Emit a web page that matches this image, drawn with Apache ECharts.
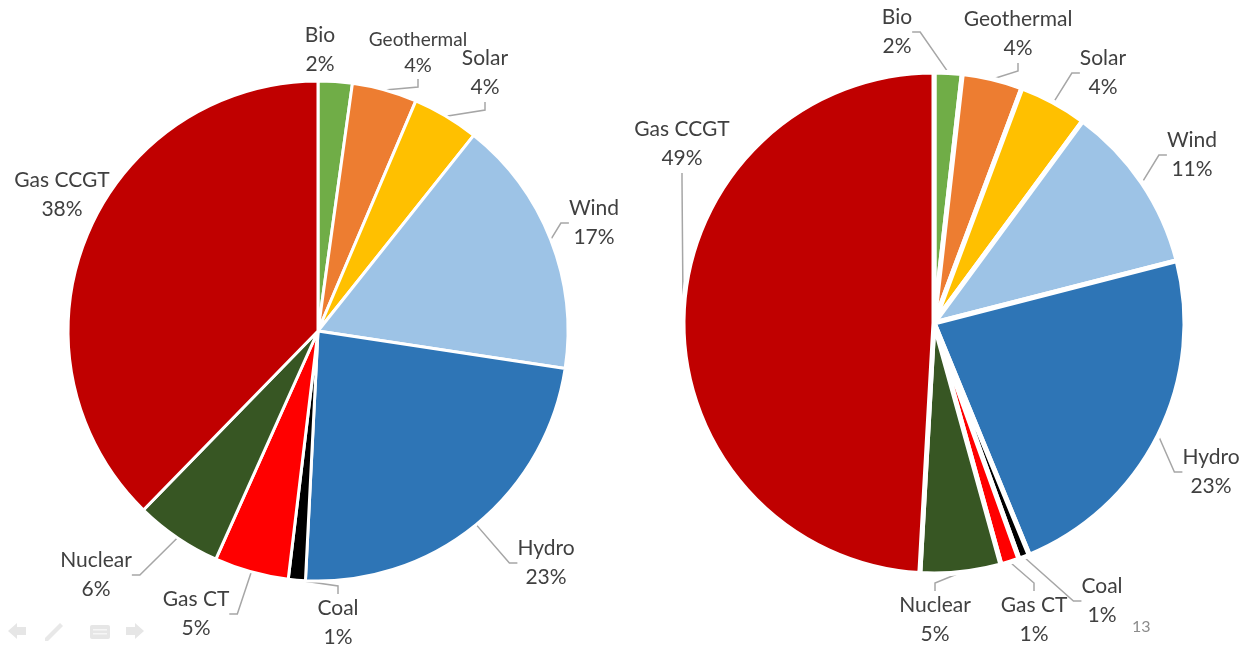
<!DOCTYPE html>
<html>
<head>
<meta charset="utf-8">
<script src="https://cdn.jsdelivr.net/npm/echarts@6/dist/echarts.min.js"></script>
<style>
  html, body { margin: 0; padding: 0; background: #ffffff; }
  #chart { width: 1252px; height: 649px; }
</style>
</head>
<body>
<div id="chart"></div>
<script>
// Generation mix by source, two scenarios (shares in percent)
const sources = ['Bio', 'Geothermal', 'Solar', 'Wind', 'Hydro', 'Coal', 'Gas CT', 'Nuclear', 'Gas CCGT'];
const leftShares  = [2.2, 4.2, 4.3, 16.7, 23.4, 1.1, 4.8, 5.6, 37.7];
const rightShares = [1.8, 3.9, 4.4, 10.9, 22.8, 0.7, 1.2, 5.2, 49.1];
const slideNumber = '13';

const sourceColors = {
  'Bio': '#70AD47', 'Geothermal': '#ED7D31', 'Solar': '#FFC000', 'Wind': '#9DC3E6',
  'Hydro': '#2E75B6', 'Coal': '#000000', 'Gas CT': '#FF0000', 'Nuclear': '#375623',
  'Gas CCGT': '#C00000'
};

// Label block centres (px) for each source, same order as `sources`
const leftLabelAt = [
  [320, 50], [418, 53], [485, 73], [594, 223], [546, 563],
  [338, 623], [196, 614], [96, 575], [62, 195]
];
const rightLabelAt = [
  [897, 32], [1018, 34], [1103, 73], [1192, 155], [1211, 472],
  [1102, 601], [1034, 620], [935, 620], [682, 144]
];

const FONT = 'Lato, "Open Sans", sans-serif';
const TEXT = '#404040';

function pieData(values, smallNames, noLeader) {
  return sources.map((name, i) => {
    const item = {
      name: name,
      value: values[i],
      itemStyle: { color: sourceColors[name] }
    };
    if (smallNames.includes(name)) item.label = { formatter: '{s|{b}}\n{p|{d}%}' };
    if (noLeader.includes(name)) item.labelLine = { show: false };
    return item;
  });
}

function pieSeries(center, radius, values, smallNames, noLeader, gap, labelAt) {
  return {
    type: 'pie',
    center: center,
    radius: radius,
    startAngle: 90,
    clockwise: true,
    animation: false,
    percentPrecision: 0,
    avoidLabelOverlap: false,
    itemStyle: { borderColor: '#ffffff', borderWidth: gap },
    label: {
      show: true,
      position: 'outside',
      formatter: '{b}\n{d}%',
      color: TEXT,
      fontFamily: FONT,
      fontSize: 21,
      lineHeight: 29,
      align: 'center',
      overflow: 'none',
      rich: {
        s: { fontSize: 19, lineHeight: 26, color: TEXT, fontFamily: FONT },
        p: { fontSize: 20, lineHeight: 26, color: TEXT, fontFamily: FONT }
      }
    },
    labelLine: {
      show: true,
      length: 8,
      length2: 8,
      lineStyle: { color: '#a6a6a6', width: 1.5 }
    },
    labelLayout: function (p) {
      const pos = labelAt[p.dataIndex];
      return { x: pos[0], y: pos[1], align: 'center', verticalAlign: 'middle' };
    },
    emphasis: { disabled: true },
    data: pieData(values, smallNames, noLeader)
  };
}

const chart = echarts.init(document.getElementById('chart'), null, { renderer: 'canvas' });
chart.setOption({
  backgroundColor: '#ffffff',
  series: [
    pieSeries([318, 331], 250, leftShares, ['Geothermal'], ['Bio', 'Gas CCGT'], 3, leftLabelAt),
    pieSeries([934, 323], 251, rightShares, [], [], 5, rightLabelAt)
  ],
  graphic: [
    {
      type: 'text',
      left: 1132, top: 619,
      style: { text: slideNumber, fill: '#8c8c8c', font: '16px ' + FONT }
    },
    // slide navigation glyphs, bottom left
    {
      type: 'group', left: 8, top: 623,
      children: [
        { type: 'polygon', shape: { points: [[0, 8], [9, 0], [9, 4], [18, 4], [18, 12], [9, 12], [9, 16]] },
          style: { fill: '#e6e6e6' } },
        { type: 'polygon', shape: { points: [[52, 0], [55, 3], [40, 18], [37, 18], [37, 15]] },
          style: { fill: '#e8e8e8' } },
        { type: 'rect', shape: { x: 82, y: 2, width: 20, height: 14, r: 2 },
          style: { fill: '#e6e6e6' } },
        { type: 'rect', shape: { x: 85, y: 6, width: 14, height: 1.5 }, style: { fill: '#f6f6f6' } },
        { type: 'rect', shape: { x: 85, y: 10, width: 14, height: 1.5 }, style: { fill: '#f6f6f6' } },
        { type: 'polygon', shape: { points: [[136, 8], [127, 0], [127, 4], [118, 4], [118, 12], [127, 12], [127, 16]] },
          style: { fill: '#e6e6e6' } }
      ]
    }
  ]
});
</script>
</body>
</html>
